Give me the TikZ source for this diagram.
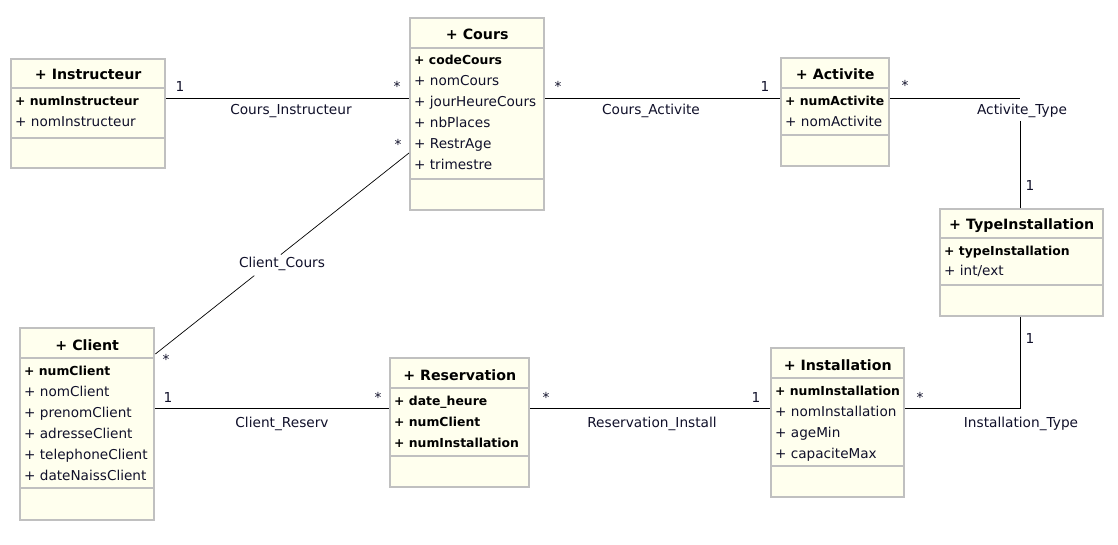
\documentclass[tikz,border=0pt]{standalone}
\usepackage{fontspec}
\setmainfont{DejaVu Sans}
\usetikzlibrary{calc}
\definecolor{boxfill}{HTML}{FFFFEE}
\definecolor{boxline}{HTML}{C0C0C0}
\definecolor{txt}{HTML}{10102A}
\tikzset{
  cls/.style={draw=boxline, line width=2.4pt, fill=boxfill, anchor=north west, inner sep=0pt},
  sepline/.style={draw=boxline, line width=2.4pt},
  title/.style={font=\fontsize{14.2}{16}\selectfont\bfseries, text=black, inner sep=0pt, anchor=base},
  attr/.style={font=\fontsize{13.6}{15}\selectfont, text=txt, anchor=base west, inner sep=0pt, xshift=5pt},
  key/.style={attr, text=black, font=\fontsize{12.4}{15}\selectfont\bfseries},
  assoc/.style={draw=black, line width=0.8pt},
  lbl/.style={font=\fontsize{13.7}{15}\selectfont, text=txt, inner sep=0pt, anchor=base},
  mult/.style={font=\fontsize{13.7}{15}\selectfont, text=txt, inner sep=0pt, anchor=base}
}
\begin{document}
\begin{tikzpicture}[x=1pt,y=-1pt]
\useasboundingbox[fill=white] (0,0) rectangle (1118,545);

% ---------- Instructeur ----------
\node[cls, minimum width=154, minimum height=109] (instr) at (10,58) {};
\draw[sepline] (instr.west |- 0,88) -- (instr.east |- 0,88);
\draw[sepline] (instr.west |- 0,138) -- (instr.east |- 0,138);
\node[title] (instrT) at (instr.north |- 0,80) {+ Instructeur};
\node[key] (instrA1) at (instr.west |- 0,106) {+ numInstructeur};
\node[attr] (instrA2) at (instr.west |- 0,127) {+ nomInstructeur};

% ---------- Cours ----------
\node[cls, minimum width=134, minimum height=192] (cours) at (409,17) {};
\draw[sepline] (cours.west |- 0,48) -- (cours.east |- 0,48);
\draw[sepline] (cours.west |- 0,179) -- (cours.east |- 0,179);
\node[title] (coursT) at (cours.north |- 0,40) {+ Cours};
\node[key] (coursA1) at (cours.west |- 0,65) {+ codeCours};
\node[attr] (coursA2) at (cours.west |- 0,86) {+ nomCours};
\node[attr] (coursA3) at (cours.west |- 0,107) {+ jourHeureCours};
\node[attr] (coursA4) at (cours.west |- 0,128) {+ nbPlaces};
\node[attr] (coursA5) at (cours.west |- 0,149) {+ RestrAge};
\node[attr] (coursA6) at (cours.west |- 0,170) {+ trimestre};

% ---------- Activite ----------
\node[cls, minimum width=108, minimum height=108] (act) at (780,57) {};
\draw[sepline] (act.west |- 0,88) -- (act.east |- 0,88);
\draw[sepline] (act.west |- 0,135) -- (act.east |- 0,135);
\node[title] (actT) at (act.north |- 0,80) {+ Activite};
\node[key] (actA1) at (act.west |- 0,106) {+ numActivite};
\node[attr] (actA2) at (act.west |- 0,127) {+ nomActivite};

% ---------- TypeInstallation ----------
\node[cls, minimum width=163, minimum height=107] (typ) at (939,208) {};
\draw[sepline] (typ.west |- 0,238) -- (typ.east |- 0,238);
\draw[sepline] (typ.west |- 0,285) -- (typ.east |- 0,285);
\node[title] (typT) at (typ.north |- 0,230) {+ TypeInstallation};
\node[key] (typA1) at (typ.west |- 0,255) {+ typeInstallation};
\node[attr] (typA2) at (typ.west |- 0,276) {+ int/ext};

% ---------- Client ----------
\node[cls, minimum width=134, minimum height=192] (cli) at (19,327) {};
\draw[sepline] (cli.west |- 0,358) -- (cli.east |- 0,358);
\draw[sepline] (cli.west |- 0,488) -- (cli.east |- 0,488);
\node[title] (cliT) at (cli.north |- 0,350) {+ Client};
\node[key] (cliA1) at (cli.west |- 0,375) {+ numClient};
\node[attr] (cliA2) at (cli.west |- 0,396) {+ nomClient};
\node[attr] (cliA3) at (cli.west |- 0,417) {+ prenomClient};
\node[attr] (cliA4) at (cli.west |- 0,438) {+ adresseClient};
\node[attr] (cliA5) at (cli.west |- 0,459) {+ telephoneClient};
\node[attr] (cliA6) at (cli.west |- 0,480) {+ dateNaissClient};

% ---------- Reservation ----------
\node[cls, minimum width=139, minimum height=129] (res) at (389,357) {};
\draw[sepline] (res.west |- 0,388) -- (res.east |- 0,388);
\draw[sepline] (res.west |- 0,456) -- (res.east |- 0,456);
\node[title] (resT) at (res.north |- 0,380) {+ Reservation};
\node[key] (resA1) at (res.west |- 0,405) {+ date\_heure};
\node[key] (resA2) at (res.west |- 0,426) {+ numClient};
\node[key] (resA3) at (res.west |- 0,447) {+ numInstallation};

% ---------- Installation ----------
\node[cls, minimum width=133, minimum height=149] (inst) at (770,347) {};
\draw[sepline] (inst.west |- 0,378) -- (inst.east |- 0,378);
\draw[sepline] (inst.west |- 0,466) -- (inst.east |- 0,466);
\node[title] (instT) at (inst.north |- 0,370) {+ Installation};
\node[key] (instA1) at (inst.west |- 0,395) {+ numInstallation};
\node[attr] (instA2) at (inst.west |- 0,416) {+ nomInstallation};
\node[attr] (instA3) at (inst.west |- 0,437) {+ ageMin};
\node[attr] (instA4) at (inst.west |- 0,458) {+ capaciteMax};

% ---------- Associations ----------
% Cours_Instructeur
\draw[assoc] (instr.east |- 0,98) -- (cours.west |- 0,98);
\node[mult] (m1) at (180,92) {1};
\node[mult] (m2) at (397,92) {*};
\node[lbl] (l1) at (291,115) {Cours\_Instructeur};

% Cours_Activite
\draw[assoc] (cours.east |- 0,98) -- (act.west |- 0,98);
\node[mult] (m3) at (558,92) {*};
\node[mult] (m4) at (765,92) {1};
\node[lbl] (l2) at (651,115) {Cours\_Activite};

% Activite_Type
\coordinate (atc) at (1020,98);
\coordinate (atv) at (1020,121);
\node[lbl] (l3) at (1022,115) {Activite\_Type};
\draw[assoc] (act.east |- atc) -- (atc);
\draw[assoc] (atv) -- (typ.north -| atv);
\node[mult] (m5) at (905,91) {*};
\node[mult] (m6) at (1030,191) {1};

% Client_Cours
\coordinate (cc1) at (cli.north east |- 0,354);
\coordinate (cc2) at (cours.west |- 0,153);
\node[lbl] (l4) at (282,267) {Client\_Cours};
\draw[assoc, line width=0.7pt] (cc1) -- ($(cc1)!0.39!(cc2)$);
\draw[assoc, line width=0.7pt] ($(cc1)!0.495!(cc2)$) -- (cc2);
\node[mult] (m7) at (398,150) {*};
\node[mult] (m8) at (166,364) {*};

% Client_Reserv
\draw[assoc] (cli.east |- 0,408) -- (res.west |- 0,408);
\node[mult] (m9) at (168,402) {1};
\node[mult] (m10) at (378,402) {*};
\node[lbl] (l5) at (282,427) {Client\_Reserv};

% Reservation_Install
\draw[assoc] (res.east |- 0,408) -- (inst.west |- 0,408);
\node[mult] (m11) at (546,402) {*};
\node[mult] (m12) at (756,402) {1};
\node[lbl] (l6) at (652,427) {Reservation\_Install};

% Installation_Type
\coordinate (itc) at (1020,408);
\draw[assoc] (inst.east |- itc) -- (itc) -- (typ.south -| itc);
\node[mult] (m13) at (920,402) {*};
\node[mult] (m14) at (1030,343) {1};
\node[lbl] (l7) at (1021,427) {Installation\_Type};
\end{tikzpicture}
\end{document}
